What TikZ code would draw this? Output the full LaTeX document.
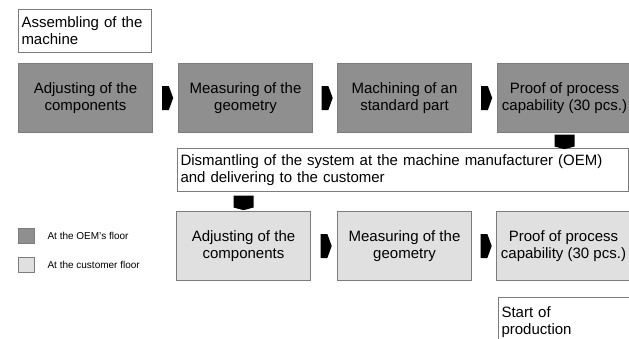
\documentclass[tikz,border=0pt]{standalone}
\usepackage{fontspec}
\setmainfont{Liberation Sans}
\usetikzlibrary{shapes.symbols}
\definecolor{oemgray}{HTML}{8F8F8F}
\definecolor{custgray}{HTML}{E0E0E0}
\definecolor{framegray}{HTML}{7C7C7C}
\begin{document}
\begin{tikzpicture}[
  x=1pt, y=-1pt,
  stepbox/.style={rectangle, draw=framegray, line width=1pt, minimum width=134pt, minimum height=69pt, align=center, anchor=north west, inner sep=2pt, font=\fontsize{15}{17.5}\selectfont},
  oem/.style={stepbox, fill=oemgray},
  cust/.style={stepbox, fill=custgray},
  note/.style={rectangle, draw=framegray, line width=1pt, fill=white, anchor=north west, align=left, inner sep=3pt, font=\fontsize{15}{17}\selectfont},
  chev/.style={signal, signal to=east, signal pointer angle=140, fill=black, inner sep=0pt, minimum width=11pt, minimum height=24pt},
  chevdown/.style={signal, signal to=south, signal pointer angle=150, fill=black, inner sep=0pt, minimum width=20pt, minimum height=12pt},
  legbox/.style={rectangle, draw=framegray, line width=1pt, minimum width=16pt, minimum height=15pt, anchor=north west},
  legtext/.style={anchor=west, font=\fontsize{10}{12}\selectfont}
]
\useasboundingbox (0,0) rectangle (629,338);

% Start
\node[note, text width=127pt, minimum height=43pt] (assembly) at (18,9) {Assembling of the\\machine};

% At the OEM
\node[oem] (o1) at (18,63) {Adjusting of the\\components};
\node[oem] (o2) at (178,63) {Measuring of the\\geometry};
\node[oem] (o3) at (337,63) {Machining of an\\standard part};
\node[oem] (o4) at (497,63) {Proof of process\\capability (30 pcs.)};

% Transfer
\node[note, text width=445pt, minimum height=43pt] (transfer) at (177,148) {Dismantling of the system at the machine manufacturer (OEM)\\and delivering to the customer};

% At the customer
\node[cust] (c1) at (176,211) {Adjusting of the\\components};
\node[cust] (c2) at (337,211) {Measuring of the\\geometry};
\node[cust] (c3) at (496,211) {Proof of process\\capability (30 pcs.)};

\node[note, text width=127pt, minimum height=50pt] (sop) at (498,297) {Start of\\production};

% Flow
\path (o1) -- node[chev] {} (o2);
\path (o2) -- node[chev] {} (o3);
\path (o3) -- node[chev] {} (o4);
\path (o4.south) -- node[chevdown] {} (o4.south |- transfer.north);
\path (transfer.south -| c1) -- node[chevdown] {} (c1.north);
\path (c1) -- node[chev] {} (c2);
\path (c2) -- node[chev] {} (c3);

% Legend
\node[legbox, fill=oemgray] (legoem) at (18,228) {};
\node[legtext] at (44,236) {At the OEM's floor};
\node[legbox, fill=custgray] (legcust) at (18,257) {};
\node[legtext] at (44,265) {At the customer floor};

\end{tikzpicture}
\end{document}
